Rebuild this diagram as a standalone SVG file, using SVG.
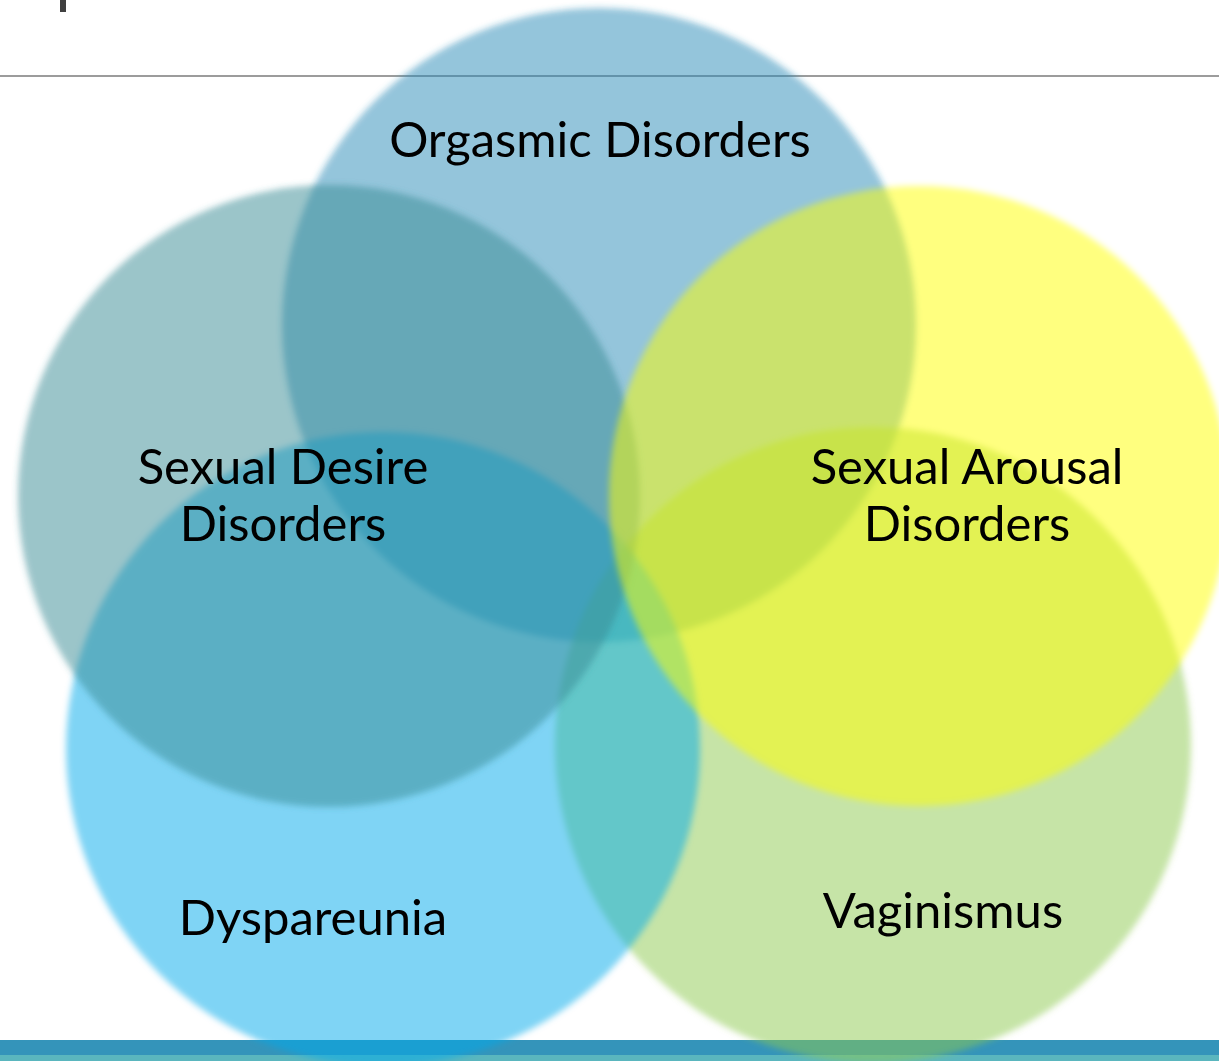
<svg xmlns="http://www.w3.org/2000/svg" width="1219" height="1061" viewBox="0 0 1219 1061">
  <defs>
    <filter id="soft" x="-10%" y="-10%" width="120%" height="120%">
      <feGaussianBlur stdDeviation="3"/>
    </filter>
    <style>
      .c { fill-opacity: 0.5; filter: url(#soft); }
      .lbl { font-family: Lato, "Liberation Sans", sans-serif; font-size: 49px; fill: #000; text-anchor: middle; }
    </style>
  </defs>
  <rect x="0" y="0" width="1219" height="1061" fill="#ffffff"/>
  <rect x="60" y="0" width="6" height="12" fill="#404040"/>
  <rect x="0" y="75" width="1219" height="2" fill="#9c9c9c"/>
  <rect x="0" y="1040" width="1219" height="15" fill="#3494ba"/>
  <rect x="0" y="1055" width="1219" height="6" fill="#5ab6be"/>

  <g id="orgasmic">
    <circle class="c" cx="599" cy="325" r="317" fill="#288cb7"/>
  </g>
  <g id="vaginismus">
    <circle class="c" cx="873" cy="745" r="318" fill="#8dc94d"/>
  </g>
  <g id="dyspareunia">
    <circle class="c" cx="383" cy="749" r="317" fill="#01a9eb"/>
  </g>
  <g id="desire">
    <circle class="c" cx="329" cy="496" r="311" fill="#378b93"/>
  </g>
  <g id="arousal">
    <circle class="c" cx="919" cy="496" r="310" fill="#ffff00"/>
  </g>

  <g id="labels">
    <text class="lbl" x="600" y="157">Orgasmic Disorders</text>
    <text class="lbl" x="283" y="484">Sexual Desire</text>
    <text class="lbl" x="283" y="541">Disorders</text>
    <text class="lbl" x="967" y="484">Sexual Arousal</text>
    <text class="lbl" x="967" y="541">Disorders</text>
    <text class="lbl" x="313" y="935">Dyspareunia</text>
    <text class="lbl" x="943" y="928">Vaginismus</text>
  </g>
</svg>
